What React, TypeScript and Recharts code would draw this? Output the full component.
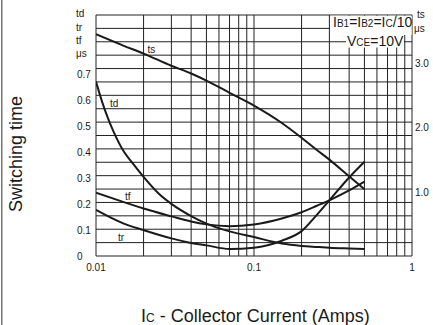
import { LineChart, Line, XAxis, YAxis, CartesianGrid, ReferenceArea } from 'recharts';

// collector current (A) on the log axis
const xTicks = [0.01, 0.02, 0.03, 0.04, 0.05, 0.06, 0.07, 0.08, 0.09, 0.1, 0.2, 0.3, 0.4, 0.5, 0.6, 0.7, 0.8, 0.9, 1];
const xLabels = [0.01, 0.1, 1];
const leftTicks = [0, 0.1, 0.2, 0.3, 0.4, 0.5, 0.6, 0.7];
const rightTicks = [1, 2, 3];
const gridRows = 18;

// ts, right axis (us)
const tsCurrent = [0.01, 0.015, 0.02, 0.03, 0.04, 0.05, 0.07, 0.1, 0.15, 0.2, 0.25, 0.3, 0.4, 0.5];
const tsValues = [3.45, 3.27, 3.15, 2.96, 2.84, 2.73, 2.54, 2.34, 2.07, 1.84, 1.65, 1.5, 1.24, 1.04];

// td, left axis (us)
const tdCurrent = [0.01, 0.011, 0.012, 0.013, 0.015, 0.017, 0.02, 0.025, 0.03, 0.04, 0.05, 0.07, 0.1, 0.15, 0.2, 0.25, 0.3, 0.4, 0.5];
const tdValues = [0.673, 0.59, 0.526, 0.476, 0.403, 0.359, 0.305, 0.24, 0.201, 0.154, 0.125, 0.095, 0.073, 0.048, 0.039, 0.035, 0.032, 0.029, 0.027];

// tf and tr, left axis (us)
const ftCurrent = [0.01, 0.015, 0.02, 0.03, 0.04, 0.05, 0.07, 0.1, 0.15, 0.2, 0.25, 0.3, 0.4, 0.5];
const tfValues = [0.244, 0.208, 0.183, 0.153, 0.133, 0.122, 0.115, 0.122, 0.145, 0.169, 0.194, 0.215, 0.253, 0.287];
const trValues = [0.178, 0.125, 0.1, 0.068, 0.05, 0.041, 0.027, 0.032, 0.059, 0.096, 0.159, 0.215, 0.303, 0.364];

const toRows = (xs: number[], ys: number[]) => xs.map((i, k) => ({ i, v: ys[k] }));

const ink = '#1a1a1a';

const LeftTick = (props: any) => {
  const v = props.payload.value;
  return (
    <text x={77} y={props.y} dy={3.8} fontSize={10} fill={ink}>
      {v === 0 ? '0' : v.toFixed(1)}
    </text>
  );
};

const RightTick = (props: any) => (
  <text x={415} y={props.y} dy={3.8} fontSize={10} fill={ink}>
    {props.payload.value.toFixed(1)}
  </text>
);

const BottomTick = (props: any) => {
  const v = props.payload.value;
  if (!xLabels.includes(v)) return null;
  return (
    <text x={props.x} y={270.5} textAnchor='middle' fontSize={10} fill={ink}>
      {String(v)}
    </text>
  );
};

// the frame is split in 18 equal rows, independent of the tick values
const rowLines = ({ offset }: any) =>
  Array.from({ length: gridRows + 1 }, (_, r) => offset.top + (offset.height * r) / gridRows);

export default function App() {
  const line = { type: 'monotone' as const, dataKey: 'v', stroke: ink, strokeWidth: 2, dot: false, isAnimationActive: false };
  return (
    <div
      style={{
        position: 'relative',
        width: 433,
        height: 325,
        fontFamily: '"Liberation Sans", Arial, sans-serif',
        background: '#fff',
      }}
    >
      <style>{'body{margin:0}'}</style>
      <LineChart width={433} height={325} margin={{ top: 15, right: 0, bottom: 0, left: 0 }}>
        <CartesianGrid
          yAxisId='left'
          stroke='#222'
          strokeWidth={1}
          strokeOpacity={1}
          horizontalCoordinatesGenerator={rowLines}
        />
        <XAxis
          dataKey='i'
          type='number'
          scale='log'
          domain={[0.01, 1]}
          ticks={xTicks}
          allowDataOverflow
          height={69}
          axisLine={false}
          tickLine={false}
          tickSize={0}
          tick={<BottomTick />}
          interval={0}
        />
        <YAxis
          yAxisId='left'
          type='number'
          domain={[0, 0.93]}
          ticks={leftTicks}
          width={96}
          axisLine={false}
          tickLine={false}
          tick={<LeftTick />}
          interval={0}
        />
        <YAxis
          yAxisId='right'
          orientation='right'
          type='number'
          domain={[0, 3.75]}
          ticks={rightTicks}
          width={21}
          axisLine={false}
          tickLine={false}
          tick={<RightTick />}
          interval={0}
        />
        <ReferenceArea yAxisId='left' x1={0.303} x2={0.995} y1={0.853} y2={0.927} fill='#fff' fillOpacity={1} stroke='none' />
        <ReferenceArea yAxisId='left' x1={0.382} x2={0.89} y1={0.805} y2={0.853} fill='#fff' fillOpacity={1} stroke='none' />
        <Line {...line} yAxisId='right' data={toRows(tsCurrent, tsValues)} />
        <Line {...line} yAxisId='left' data={toRows(tdCurrent, tdValues)} />
        <Line {...line} yAxisId='left' data={toRows(ftCurrent, tfValues)} />
        <Line {...line} yAxisId='left' data={toRows(ftCurrent, trValues)} />
      </LineChart>

      {/* annotations drawn over the chart */}
      <svg
        width={433}
        height={325}
        style={{ position: 'absolute', left: 0, top: 0, pointerEvents: 'none' }}
        fill={ink}
      >
        <rect x={1} y={0} width={1.5} height={325} fill='#777' />
        <text x={76} y={17} fontSize={10}>td</text>
        <text x={76} y={30.5} fontSize={10}>tr</text>
        <text x={76} y={43.7} fontSize={10}>tf</text>
        <text x={76} y={57} fontSize={10}>μs</text>
        <text x={417} y={18.3} fontSize={10}>ts</text>
        <text x={414} y={31.5} fontSize={10}>μs</text>
        <text x={147.5} y={52.5} fontSize={10}>ts</text>
        <text x={110} y={107} fontSize={10}>td</text>
        <text x={125} y={199.5} fontSize={10}>tf</text>
        <text x={118} y={240.5} fontSize={10}>tr</text>
        <text x={333} y={27} fontSize={14}>
          I<tspan fontSize={10}>B1</tspan>=I<tspan fontSize={10}>B2</tspan>=I<tspan fontSize={10}>C</tspan>/10
        </text>
        <text x={347} y={45.5} fontSize={14}>
          V<tspan fontSize={10}>CE</tspan>=10V
        </text>
        <text x={22} y={154} fontSize={18} textAnchor='middle' transform='rotate(-90 22 154)'>
          Switching time
        </text>
        <text x={141} y={322} fontSize={18}>
          I<tspan fontSize={12}>C</tspan> - Collector Current (Amps)
        </text>
      </svg>
    </div>
  );
}
